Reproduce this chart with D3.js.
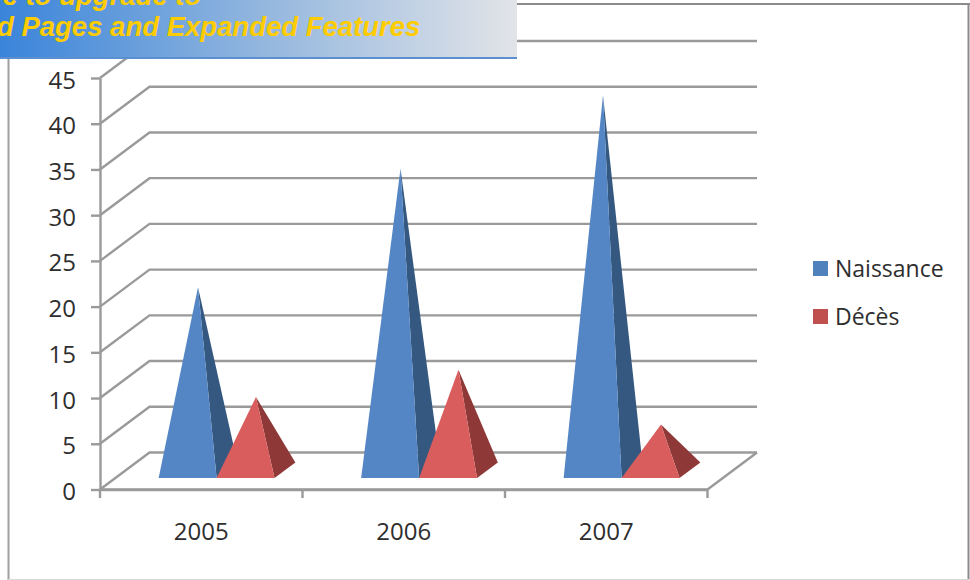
<!DOCTYPE html>
<html>
<head>
<meta charset="utf-8">
<script src="https://cdn.jsdelivr.net/npm/d3@7"></script>
<style>
  html, body { margin: 0; padding: 0; background: #fff; }
  svg { display: block; }
  text { font-family: "Open Sans", sans-serif; fill: #2e2e2e; }
</style>
</head>
<body>
<div id="chart"></div>
<script>
var years = ["2005", "2006", "2007"];
var seriesNames = ["Naissance", "Décès"];
var naissance = [20, 33, 41];
var deces = [8, 11, 5];
var yTicks = [0, 5, 10, 15, 20, 25, 30, 35, 40, 45];
var bannerLines = ["re to upgrade to", "d Pages and Expanded Features"];

var width = 970, height = 580;
var floorLeft = 100, floorRight = 707.5, floorY = 489.5;
var depthX = 49.5, depthY = -37;
// pyramid base sits between these fractions of the floor depth
var baseFront = 0.31, baseBack = 0.73;
var axisColor = "#9a9a9a", axisWidth = 2.4;

var x = d3.scaleBand().domain(years).range([floorLeft, floorRight]);
var xSeries = d3.scaleBand().domain(seriesNames).range([0, x.bandwidth()])
    .paddingInner(0).paddingOuter(0.747);
var y = d3.scaleLinear().domain([0, 45]).range([floorY, 78]);

var colors = {
  "Naissance": { front: "#5486c6", side: "#34587f", key: "#4f81bd" },
  "Décès": { front: "#da5d5d", side: "#8e3838", key: "#c0504d" }
};

var svg = d3.select("#chart").append("svg").attr("width", width).attr("height", height);

var bannerFill = svg.append("defs").append("linearGradient").attr("id", "bannerFill");
[[0, "#3a84da"], [0.5, "#92b6de"], [1, "#e2e4e8"]].forEach(function(s) {
  bannerFill.append("stop").attr("offset", s[0]).attr("stop-color", s[1]);
});

// outer frame
var frame = svg.append("g").attr("fill", "none").attr("stroke", "#8c8c8c");
frame.append("line").attr("x1", 8.5).attr("x2", 8.5).attr("y1", 0).attr("y2", 580).attr("stroke-width", 2).attr("stroke", "#a0a0a0");
frame.append("line").attr("x1", 968.5).attr("x2", 968.5).attr("y1", 4).attr("y2", 580).attr("stroke-width", 2);
frame.append("line").attr("x1", 8).attr("x2", 970).attr("y1", 4).attr("y2", 4).attr("stroke-width", 2);
frame.append("line").attr("x1", 8).attr("x2", 970).attr("y1", 579.5).attr("y2", 579.5).attr("stroke", "#d9d9d9");

// gridlines on the back wall and their slanted returns to the axis
var grid = svg.append("g").attr("stroke", axisColor).attr("stroke-width", axisWidth).attr("fill", "none");
yTicks.forEach(function(t) {
  grid.append("path").attr("d", d3.line()([
    [floorLeft, y(t)],
    [floorLeft + depthX, y(t) + depthY],
    [floorRight + depthX, y(t) + depthY]
  ]));
});
// floor edges
grid.append("path").attr("d", d3.line()([
  [floorLeft, floorY], [floorRight, floorY], [floorRight + depthX, floorY + depthY]
]));

// axes
var yAxis = d3.axisLeft(y).tickValues(yTicks).tickSize(9).tickPadding(15).tickSizeOuter(0);
var gy = svg.append("g").attr("transform", "translate(" + floorLeft + ",0)").call(yAxis);
var xAxis = d3.axisBottom(x).tickSize(0).tickPadding(33).tickSizeOuter(0);
var gx = svg.append("g").attr("transform", "translate(0," + floorY + ")").call(xAxis);
[gy, gx].forEach(function(g) {
  g.select(".domain").attr("stroke", axisColor).attr("stroke-width", axisWidth);
  g.selectAll(".tick line").attr("stroke", axisColor).attr("stroke-width", axisWidth);
  g.selectAll("text").attr("font-size", 24).attr("font-family", '"Open Sans", sans-serif')
    .attr("fill", "#2e2e2e");
});
gy.selectAll("text").attr("dy", "0.42em");

// category separators under the floor
svg.append("g").selectAll("line")
    .data(years.concat(["end"]))
    .enter().append("line")
    .attr("x1", function(d, i) { return i < years.length ? x(d) : floorRight; })
    .attr("x2", function(d, i) { return i < years.length ? x(d) : floorRight; })
    .attr("y1", floorY)
    .attr("y2", floorY + 8.5)
    .attr("stroke", axisColor)
    .attr("stroke-width", axisWidth);

// one record per pyramid, in draw order
var pyramids = [];
years.forEach(function(year, i) {
  pyramids.push({ year: year, name: "Naissance", value: naissance[i] });
  pyramids.push({ year: year, name: "Décès", value: deces[i] });
});

function project(px, depth, value) {
  return [px + depth * depthX, y(value) + depth * depthY];
}

var marks = svg.append("g").selectAll("g")
    .data(pyramids)
    .enter().append("g");

function facePoints(d, side) {
  var x0 = x(d.year) + xSeries(d.name), w = xSeries.bandwidth();
  var apexDepth = (baseFront + baseBack) / 2;
  var apex = project(x0 + w / 2, apexDepth, d.value);
  var fl = project(x0, baseFront, 0), fr = project(x0 + w, baseFront, 0);
  var br = project(x0 + w, baseBack, 0);
  return side ? [fr, br, apex] : [fl, fr, apex];
}

marks.append("polygon")
    .attr("points", function(d) { return facePoints(d, true).join(" "); })
    .attr("fill", function(d) { return colors[d.name].side; });
marks.append("polygon")
    .attr("points", function(d) { return facePoints(d, false).join(" "); })
    .attr("fill", function(d) { return colors[d.name].front; });

// legend
var legendY = d3.scalePoint().domain(seriesNames).range([268, 316]);
var legend = svg.append("g").selectAll("g")
    .data(seriesNames)
    .enter().append("g")
    .attr("transform", function(d) { return "translate(813," + legendY(d) + ")"; });
legend.append("rect")
    .attr("y", -7).attr("width", 15).attr("height", 15)
    .attr("fill", function(d) { return colors[d].key; });
legend.append("text")
    .attr("x", 22).attr("dy", "0.4em")
    .attr("font-size", 23)
    .text(function(d) { return d; });

// banner across the top left
var banner = svg.append("g");
banner.append("rect").attr("x", 0).attr("y", 0).attr("width", 517).attr("height", 58).attr("fill", "url(#bannerFill)");
banner.append("rect").attr("x", 0).attr("y", 57).attr("width", 517).attr("height", 2).attr("fill", "#5b8fd0");
banner.selectAll("text")
    .data(bannerLines)
    .enter().append("text")
    .attr("x", function(d, i) { return i === 0 ? -8 : -3; })
    .attr("y", function(d, i) { return i === 0 ? 5 : 36; })
    .attr("font-size", 27.5)
    .attr("font-weight", "bold")
    .attr("font-style", "italic")
    .style("font-family", '"Liberation Sans", Arial, sans-serif')
    .style("fill", "#ffcc00")
    .text(function(d) { return d; });
</script>
</body>
</html>
